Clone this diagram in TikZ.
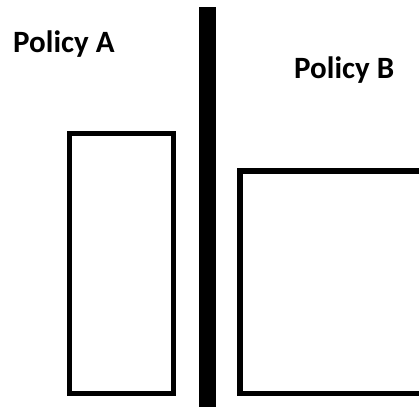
\documentclass[tikz,border=0pt]{standalone}
\usepackage{fontspec}
\setmainfont{Carlito}
\begin{document}
\begin{tikzpicture}[x=1pt,y=-1pt,
  lbl/.style={anchor=base west,inner sep=0pt,font=\bfseries\fontsize{31}{31}\selectfont},
  box/.style={draw=black,line width=5.5pt}]
\useasboundingbox (0,0) rectangle (419,406);
\clip (0,0) rectangle (419,406);
\node[lbl] (la) at (13,53) {Policy A};
\node[lbl] (lb) at (294,79) {Policy B};
\draw[box] (69.5,133.5) rectangle (173.5,393.5);
\fill[black] (199,7) rectangle (216,410);
\draw[box] (240,171) rectangle (440,393.5);
\end{tikzpicture}
\end{document}
